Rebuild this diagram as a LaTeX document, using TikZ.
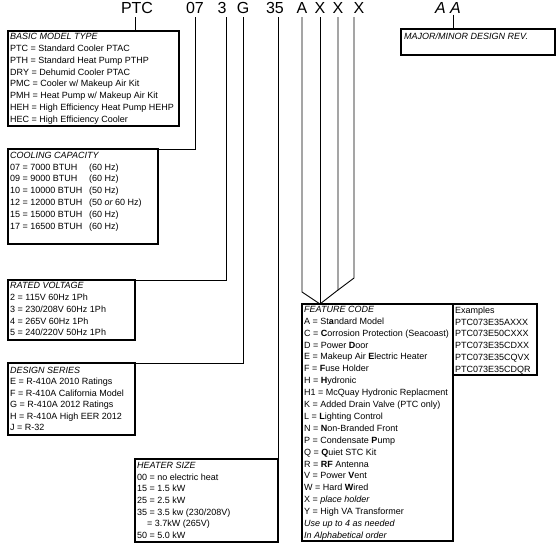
\documentclass[tikz,border=0pt]{standalone}
\usepackage{fontspec}
\setmainfont{Liberation Sans}
\usetikzlibrary{calc}
\newcommand\mylines[5]{%
  \foreach \t [count=\i from 0] in {#5}
    \node[txt] (#1\i) at (#2,{#3+\i*#4}) {\t};}
\begin{document}
\begin{tikzpicture}[x=1pt,y=-1pt,
  box/.style={draw, line width=1.8pt, outer sep=0pt, inner sep=0pt, anchor=north west},
  conn/.style={line width=0.9pt},
  head/.style={font=\fontsize{16}{18}\selectfont, inner xsep=0pt, inner ysep=3.5pt, anchor=base},
  txt/.style={font=\fontsize{9}{11}\selectfont, inner sep=0pt, anchor=base west}]
\useasboundingbox (0,0) rectangle (558,547);

% header
\node[head] (hPTC) at (137,13.5) {PTC};
\node[head] (h07) at (195,13.5) {07};
\node[head] (h3) at (222,13.5) {3};
\node[head] (hG) at (243,13.5) {G};
\node[head] (h35) at (275,13.5) {35};
\node[head] (hA) at (302,13.5) {A};
\node[head] (hX1) at (320,13.5) {X};
\node[head] (hX2) at (338,13.5) {X};
\node[head] (hX3) at (359,13.5) {X};
\node[head, font=\fontsize{16}{18}\selectfont\itshape] (hAA) at (448,13) {A A};

% boxes
\node[box, minimum width=171, minimum height=95] (basic) at (8,31) {};
\node[box, minimum width=150, minimum height=95] (cool) at (8,149) {};
\node[box, minimum width=127, minimum height=60] (rated) at (8,280) {};
\node[box, minimum width=127, minimum height=72] (design) at (8,363) {};
\node[box, minimum width=143, minimum height=83] (heater) at (135,459) {};
\node[box, minimum width=151, minimum height=237] (feature) at (302,304) {};
\node[box, line width=1.3pt, minimum width=84, minimum height=71] (examples) at (453,304) {};
\node[box, minimum width=154, minimum height=26] (major) at (401,29) {};

% connectors
\draw[conn] ($(hPTC.south)+(-2,0)$) coordinate (pPTC) -- (pPTC |- basic.north);
\draw[conn] (h07.south) |- (cool.north east);
\draw[conn] ($(h3.south)+(4,0)$) |- (rated.north east);
\draw[conn] (hG.south) |- (design.north east);
\draw[conn] ($(h35.south)+(3,0)$) |- (heater.north east);
\coordinate (fc) at ($(feature.north west)+(18,0)$);
\draw[conn] (hA.south) -- (hA.south |- 0,292) -- (fc);
\draw[conn] (hX1.south) -- (hX1.south |- fc);
\draw[conn] (hX2.south) -- (hX2.south |- 0,290) coordinate (x2b) -- (fc);
\draw[conn] ($(hX3.south)+(-5,0)$) coordinate (pX3) -- (pX3 |- 0,278) -- (x2b);
\draw[conn] ($(hAA.south)+(5,-2)$) coordinate (pAA) -- (pAA |- major.north);

% texts
\mylines{bt}{10}{39.3}{11.9}{%
{\itshape BASIC MODEL TYPE},
{PTC = Standard Cooler PTAC},
{PTH = Standard Heat Pump PTHP},
{DRY = Dehumid Cooler PTAC},
{PMC = Cooler w/ Makeup Air Kit},
{PMH = Heat Pump w/ Makeup Air Kit},
{HEH = High Efficiency Heat Pump HEHP},
{HEC = High Efficiency Cooler}}

\mylines{ct}{10}{158.3}{11.8}{%
{\itshape COOLING CAPACITY},
{\makebox[79pt][l]{07 = 7000 BTUH}(60 Hz)},
{\makebox[79pt][l]{09 = 9000 BTUH}(60 Hz)},
{\makebox[79pt][l]{10 = 10000 BTUH}(50 Hz)},
{\makebox[79pt][l]{12 = 12000 BTUH}(50 {\itshape or} 60 Hz)},
{\makebox[79pt][l]{15 = 15000 BTUH}(60 Hz)},
{\makebox[79pt][l]{17 = 16500 BTUH}(60 Hz)}}

\mylines{rt}{10}{288.3}{11.9}{%
{\itshape RATED VOLTAGE},
{2 = 115V 60Hz 1Ph},
{3 = 230/208V 60Hz 1Ph},
{4 = 265V 60Hz 1Ph},
{5 = 240/220V 50Hz 1Ph}}

\mylines{dt}{10}{373.3}{11.5}{%
{\itshape DESIGN SERIES},
{E = R-410A 2010 Ratings},
{F = R-410A California Model},
{G = R-410A 2012 Ratings},
{H = R-410A High EER 2012},
{J = R-32}}

\mylines{ht}{137}{468.3}{11.7}{%
{\itshape HEATER SIZE},
{00 = no electric heat},
{15 = 1.5 kW},
{25 = 2.5 kW},
{35 = 3.5 kw (230/208V)},
{\hspace*{10pt}= 3.7kW (265V)},
{50 = 5.0 kW}}

\mylines{ft}{304}{312.3}{11.9}{%
{\itshape FEATURE CODE},
{A = St\textbf{a}ndard Model},
{C = \textbf{C}orrosion Protection (Seacoast)},
{D = Power \textbf{D}oor},
{E = Makeup Air \textbf{E}lectric Heater},
{F = \textbf{F}use Holder},
{H = \textbf{H}ydronic},
{H1 = McQuay Hydronic Replacment},
{K = Added Drain Valve (PTC only)},
{L = \textbf{L}ighting Control},
{N = \textbf{N}on-Branded Front},
{P = Condensate \textbf{P}ump},
{Q = \textbf{Q}uiet STC Kit},
{R = \textbf{RF} Antenna},
{V = Power \textbf{V}ent},
{W = Hard \textbf{W}ired},
{X = {\itshape place holder}},
{Y = High VA Transformer},
{\itshape Use up to 4 as needed},
{\itshape In Alphabetical order}}

\mylines{et}{455}{313.3}{11.8}{%
{Examples},
{PTC073E35AXXX},
{PTC073E50CXXX},
{PTC073E35CDXX},
{PTC073E35CQVX},
{PTC073E35CDQR}}

\node[txt, font=\fontsize{9}{11}\selectfont\itshape] (mt) at (404,39.5) {MAJOR/MINOR DESIGN REV.};
\end{tikzpicture}
\end{document}
